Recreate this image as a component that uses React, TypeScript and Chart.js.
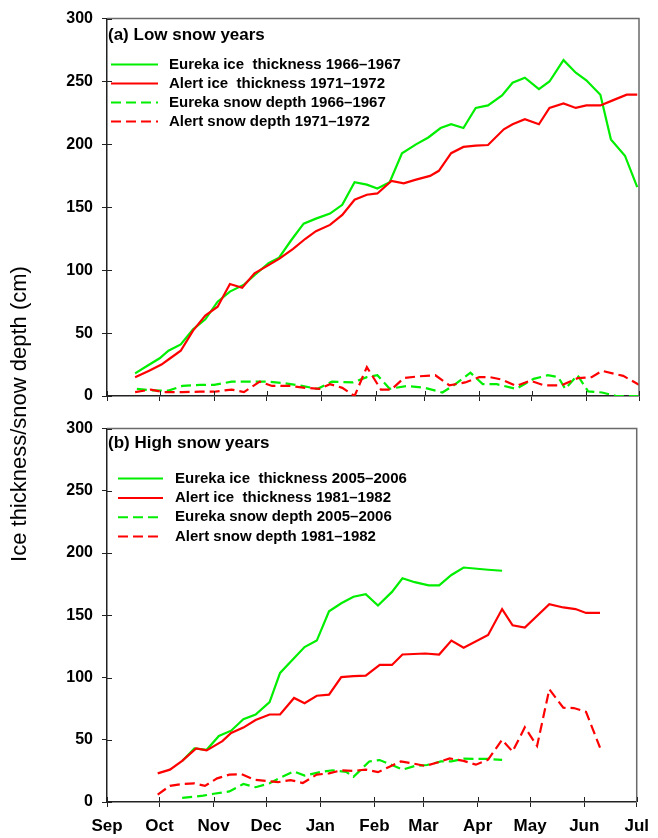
import React, { useEffect, useRef } from "react";
import { Chart, registerables } from "chart.js";

Chart.register(...registerables);

// ---------- axis data ----------
const monthTickDays = [0, 30, 61, 91, 122, 153, 181, 212, 242, 273, 303];
const monthLabels = ["Sep", "Oct", "Nov", "Dec", "Jan", "Feb", "Mar", "Apr", "May", "Jun", "Jul"];
const yMin = 0;
const yMax = 300;
const yStep = 50;
const yAxisTitle = "Ice thickness/snow depth (cm)";
const panelTitles = ["(a) Low snow years", "(b) High snow years"];

// ---------- panel (a): low snow years (x = days since 1 Sep) ----------
const aEurekaIceDays = [16, 23, 30, 35, 42, 49, 56, 63, 70, 78, 84, 92, 98, 105, 112, 119, 127, 134, 141, 148, 154, 161, 168, 176, 183, 190, 196, 203, 210, 217, 225, 231, 238, 246, 252, 260, 267, 273, 281, 287, 295, 302];
const aEurekaIceCm = [18, 24, 30, 36, 41, 53, 61, 75, 83, 88.5, 96, 105.5, 110, 124, 137, 141, 145, 152, 170, 168, 165, 170, 193, 200, 205.5, 213, 216, 213, 229, 231, 239, 249, 253, 244, 250, 267, 257, 251, 239.5, 204, 191, 166];

const aAlertIceDays = [16, 24, 31, 36, 42, 49, 56, 63, 70, 77, 84, 92, 98, 106, 113, 119, 127, 134, 141, 148, 154, 162, 169, 176, 184, 189, 196, 203, 210, 217, 226, 231, 238, 246, 252, 260, 267, 273, 281, 288, 296, 302];
const aAlertIceCm = [15, 20, 25, 30, 36, 52, 64, 71, 89, 86, 97.5, 104, 109, 117, 125, 131, 136, 144, 156, 160, 161, 171, 169, 172, 175, 179, 193, 198, 199, 199.5, 212, 216, 220, 216, 229, 232.5, 229, 231, 231, 235, 239.5, 239.5];

const aEurekaSnowDays = [17, 25, 35, 43, 53, 61, 71, 82, 92, 101, 111, 120, 128, 140, 148, 154, 161, 171, 181, 191, 197, 207, 214, 222, 233, 243, 251, 257, 261, 268, 274, 282, 290, 303];
const aEurekaSnowCm = [5.7, 4.5, 4.3, 8, 8.8, 8.8, 11.4, 11.4, 11.4, 10.2, 8, 5.7, 11.4, 10.8, 15, 16.5, 5.7, 8, 6.5, 2.8, 8, 18.5, 9.4, 9.4, 5.7, 13.6, 16.5, 15, 5.7, 16.5, 3.7, 2.8, 0, 0];

const aAlertSnowDays = [16, 25, 32, 43, 53, 61, 71, 78, 87, 94, 104, 113, 121, 127, 134, 141, 148, 156, 162, 169, 177, 187, 195, 204, 212, 218, 225, 233, 241, 249, 259, 268, 276, 282, 294, 303];
const aAlertSnowCm = [3.1, 5.1, 3.1, 3.1, 3.4, 3.4, 5.1, 3.1, 11.4, 8, 8, 6.5, 5.7, 9.4, 6.5, 0, 23, 5.1, 5.1, 14.2, 15.6, 16.5, 8.5, 10.8, 15, 15, 13, 8, 12.2, 8.5, 8.5, 14.2, 15, 20, 16, 9];

// ---------- panel (b): high snow years ----------
const bEurekaIceDays = [43, 50, 57, 64, 71, 78, 85, 93, 99, 106, 113, 120, 127, 134, 141, 148, 155, 163, 169, 176, 184, 190, 197, 204, 218, 226];
const bEurekaIceCm = [33, 43, 42, 53, 57.3, 66.6, 70.3, 80.2, 103.7, 114.1, 124.5, 129.7, 153.2, 159.7, 164.9, 167, 157.9, 168.8, 179.8, 176.6, 174.1, 174.1, 182.4, 188.4, 186.6, 185.8];

const bAlertIceDays = [29, 36, 43, 51, 57, 66, 71, 78, 85, 93, 99, 107, 113, 120, 127, 134, 141, 148, 156, 163, 169, 182, 190, 197, 204, 218, 226, 232, 239, 253, 261, 268, 274, 282];
const bAlertIceCm = [23, 26, 33, 43, 41.5, 48.9, 55.4, 59.8, 65.9, 70.3, 70.3, 83.6, 79.4, 85.4, 86.2, 100.3, 101.1, 101.5, 110.1, 110.1, 118.5, 119.3, 118.5, 129.7, 124, 134.2, 155, 142, 140.2, 159, 156.3, 155, 151.9, 151.9];

const bEurekaSnowDays = [43, 55, 61, 70, 78, 85, 93, 99, 107, 113, 122, 129, 137, 141, 150, 156, 163, 169, 176, 183, 191, 197, 204, 218, 226];
const bEurekaSnowCm = [3.3, 5.1, 6.6, 8.5, 14.5, 11.9, 15, 19.5, 24.6, 21.2, 24.1, 25.5, 24.1, 20.2, 32.6, 33.7, 29.7, 26, 28.9, 29.7, 32.6, 32.6, 34.8, 34.6, 33.8];

const bAlertSnowDays = [29, 36, 43, 50, 56, 63, 70, 77, 84, 91, 98, 105, 112, 120, 127, 134, 141, 148, 155, 161, 168, 175, 182, 189, 196, 204, 211, 218, 226, 232, 239, 246, 253, 261, 267, 274, 282];
const bAlertSnowCm = [6, 13, 14.5, 15, 13, 19, 22, 22.3, 18, 17, 16, 17.6, 15.3, 22, 23, 25.5, 25, 26, 24, 28, 32.6, 31, 29, 31.7, 35, 33, 30, 34, 50, 40.5, 60, 45, 90.6, 75.7, 75.5, 72.4, 43.7];

const aLabels = [
  "Eureka ice  thickness 1966\u20131967",
  "Alert ice  thickness 1971\u20131972",
  "Eureka snow depth 1966\u20131967",
  "Alert snow depth 1971\u20131972",
];
const bLabels = [
  "Eureka ice  thickness 2005\u20132006",
  "Alert ice  thickness 1981\u20131982",
  "Eureka snow depth 2005\u20132006",
  "Alert snow depth 1981\u20131982",
];

const GREEN = "#00ee00";
const RED = "#ff0000";
const DASH = [10, 5];
const FONT = '"Liberation Sans", Arial, sans-serif';

function pts(days: number[], vals: number[]) {
  return days.map((d, i) => ({ x: d, y: vals[i] }));
}

function makeDatasets(
  labels: string[],
  eIceD: number[], eIceV: number[],
  aIceD: number[], aIceV: number[],
  eSnD: number[], eSnV: number[],
  aSnD: number[], aSnV: number[]
) {
  return [
    { label: labels[0], data: pts(eIceD, eIceV), borderColor: GREEN, borderDash: [], order: 1 },
    { label: labels[1], data: pts(aIceD, aIceV), borderColor: RED, borderDash: [], order: 0 },
    { label: labels[2], data: pts(eSnD, eSnV), borderColor: GREEN, borderDash: DASH, order: 3 },
    { label: labels[3], data: pts(aSnD, aSnV), borderColor: RED, borderDash: DASH, order: 2 },
  ].map((d) => ({ ...d, borderWidth: 2.2, pointRadius: 0, tension: 0, fill: false }));
}

const decorPlugin = {
  id: "decor",
  afterDraw(chart: any, _args: any, opts: any) {
    const { ctx, chartArea: ca, scales } = chart;
    ctx.save();
    // top and right frame
    ctx.strokeStyle = "#6a6a6a";
    ctx.lineWidth = 1.5;
    ctx.beginPath();
    ctx.moveTo(ca.left, ca.top);
    ctx.lineTo(ca.right, ca.top);
    ctx.lineTo(ca.right, ca.bottom);
    ctx.stroke();
    // inner tick marks
    ctx.strokeStyle = "#222";
    ctx.lineWidth = 1;
    ctx.beginPath();
    scales.x.ticks.forEach((t: any) => {
      const px = Math.round(scales.x.getPixelForValue(t.value)) + 0.5;
      ctx.moveTo(px, ca.bottom);
      ctx.lineTo(px, ca.bottom - 5);
    });
    scales.y.ticks.forEach((t: any) => {
      const py = Math.round(scales.y.getPixelForValue(t.value)) + 0.5;
      ctx.moveTo(ca.left, py);
      ctx.lineTo(ca.left + 5, py);
    });
    ctx.stroke();
    // panel title
    ctx.fillStyle = "#000";
    ctx.textAlign = "left";
    ctx.textBaseline = "middle";
    ctx.font = `bold 17px ${FONT}`;
    ctx.fillText(opts.title, ca.left + opts.titleDx, ca.top + opts.titleDy);
    // legend from the datasets
    const ds = chart.data.datasets;
    ds.forEach((d: any, i: number) => {
      const y = ca.top + opts.legDy + i * opts.legStep;
      ctx.strokeStyle = d.borderColor;
      ctx.lineWidth = 2;
      ctx.setLineDash(d.borderDash || []);
      ctx.beginPath();
      ctx.moveTo(ca.left + opts.legX0, y);
      ctx.lineTo(ca.left + opts.legX1, y);
      ctx.stroke();
      ctx.setLineDash([]);
      ctx.font = `bold 15px ${FONT}`;
      ctx.fillStyle = "#000";
      ctx.fillText(d.label, ca.left + opts.legTx, y);
    });
    // shared y-axis title
    if (opts.yTitle) {
      ctx.translate(opts.yTitleX, opts.yTitleY);
      ctx.rotate(-Math.PI / 2);
      ctx.textAlign = "center";
      ctx.font = `22px ${FONT}`;
      ctx.fillText(opts.yTitle, 0, 0);
    }
    ctx.restore();
  },
};

function makeOptions(showXLabels: boolean, padding: any, xHeight: number, decor: any) {
  return {
    animation: false,
    responsive: false,
    maintainAspectRatio: false,
    layout: { padding },
    plugins: {
      legend: { display: false },
      tooltip: { enabled: false },
      decor,
    },
    scales: {
      x: {
        type: "linear",
        min: monthTickDays[0],
        max: monthTickDays[monthTickDays.length - 1],
        afterBuildTicks: (s: any) => {
          s.ticks = monthTickDays.map((v) => ({ value: v }));
        },
        afterFit: (s: any) => {
          s.height = xHeight;
        },
        ticks: {
          display: showXLabels,
          autoSkip: false,
          maxRotation: 0,
          minRotation: 0,
          padding: 9,
          color: "#000",
          font: { family: FONT, size: 17, weight: "bold" },
          callback: (v: number) => monthLabels[monthTickDays.indexOf(v)],
        },
        grid: { drawOnChartArea: false, drawTicks: true, tickLength: 5, color: "#222", lineWidth: 1 },
        border: { display: true, color: "#222", width: 1.5 },
      },
      y: {
        min: yMin,
        max: yMax,
        afterFit: (s: any) => {
          s.width = 107;
        },
        ticks: {
          stepSize: yStep,
          padding: 9,
          color: "#000",
          font: { family: FONT, size: 16, weight: "bold" },
        },
        grid: { drawOnChartArea: false, drawTicks: true, tickLength: 5, color: "#222", lineWidth: 1 },
        border: { display: true, color: "#222", width: 1.5 },
      },
    },
  };
}

export default function App() {
  const refA = useRef<HTMLCanvasElement>(null);
  const refB = useRef<HTMLCanvasElement>(null);

  useEffect(() => {
    document.body.style.margin = "0";
    const chartA = new Chart(refA.current as HTMLCanvasElement, {
      type: "line",
      data: {
        datasets: makeDatasets(aLabels, aEurekaIceDays, aEurekaIceCm, aAlertIceDays, aAlertIceCm, aEurekaSnowDays, aEurekaSnowCm, aAlertSnowDays, aAlertSnowCm) as any,
      },
      options: makeOptions(false, { top: 14, right: 19, bottom: 428, left: 0 }, 14, {
        title: panelTitles[0],
        titleDx: 1,
        titleDy: 17,
        legDy: 46,
        legStep: 19,
        legX0: 4,
        legX1: 51,
        legTx: 62,
        yTitle: yAxisTitle,
        yTitleX: 20,
        yTitleY: 414,
      }) as any,
      plugins: [decorPlugin as any],
    });
    const chartB = new Chart(refB.current as HTMLCanvasElement, {
      type: "line",
      data: {
        datasets: makeDatasets(bLabels, bEurekaIceDays, bEurekaIceCm, bAlertIceDays, bAlertIceCm, bEurekaSnowDays, bEurekaSnowCm, bAlertSnowDays, bAlertSnowCm) as any,
      },
      options: makeOptions(true, { top: 10, right: 19, bottom: 0, left: 0 }, 36, {
        title: panelTitles[1],
        titleDx: 1,
        titleDy: 15,
        legDy: 50,
        legStep: 19.3,
        legX0: 11,
        legX1: 56,
        legTx: 68,
        yTitle: "",
      }) as any,
      plugins: [decorPlugin as any],
    });
    return () => {
      chartA.destroy();
      chartB.destroy();
    };
  }, []);

  return (
    <div style={{ position: "relative", width: 658, height: 838, background: "#fff" }}>
      <canvas ref={refA} width={658} height={838} style={{ position: "absolute", left: 0, top: 0 }} />
      <canvas ref={refB} width={658} height={428} style={{ position: "absolute", left: 0, top: 410 }} />
    </div>
  );
}
